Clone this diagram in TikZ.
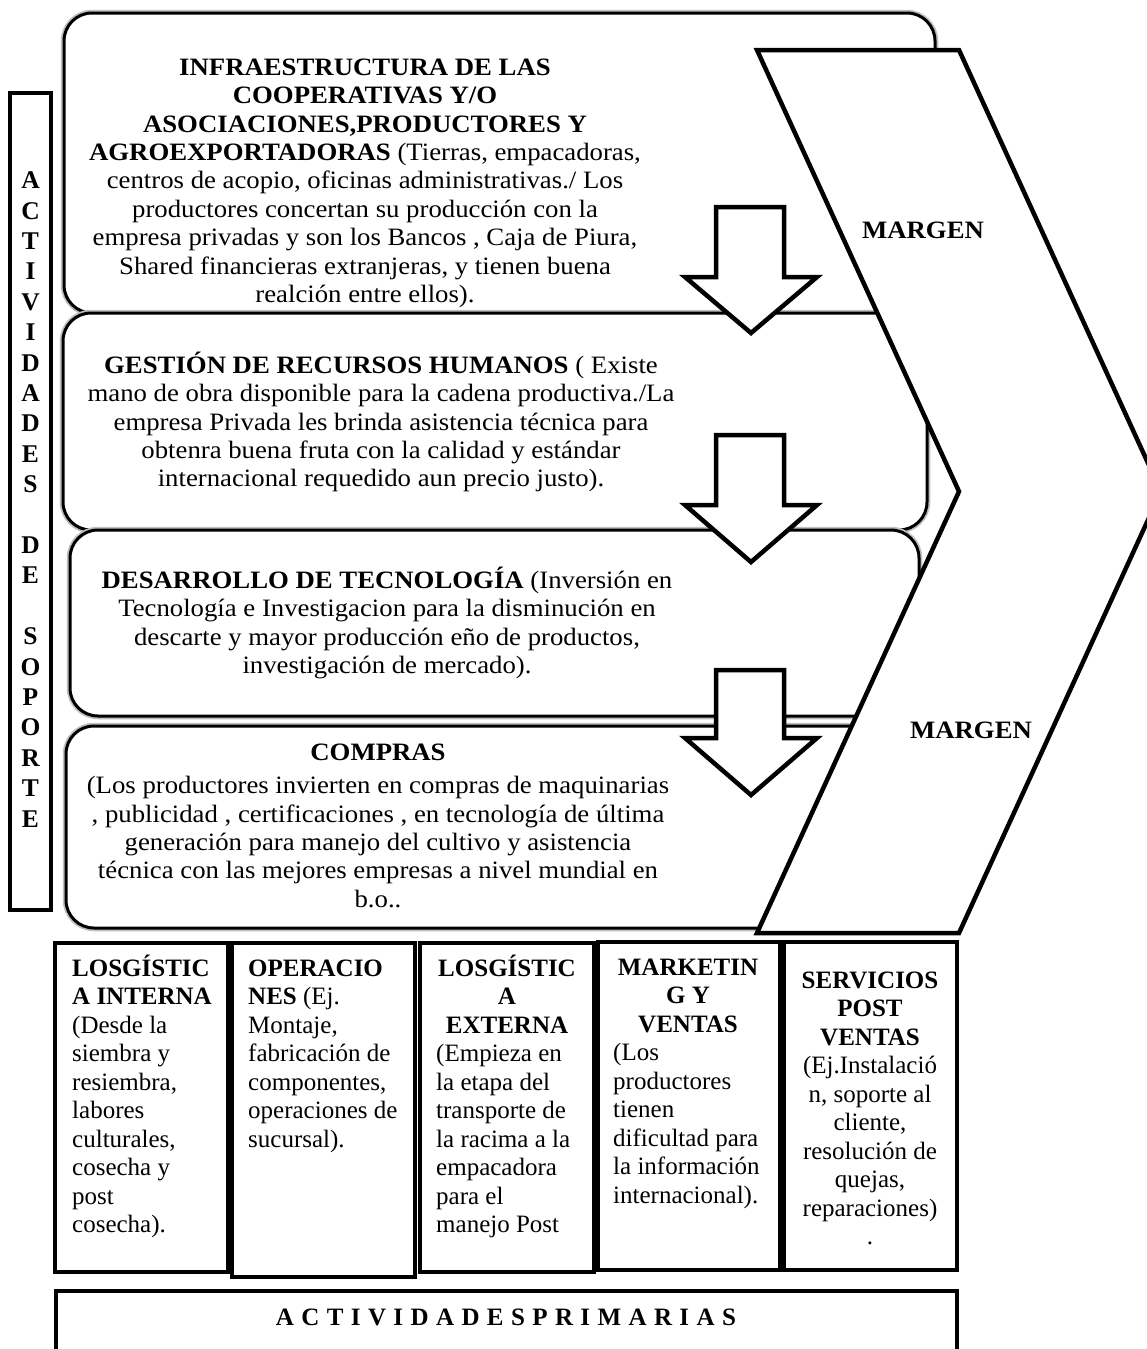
\documentclass[tikz,border=0pt]{standalone}
\usepackage{fontspec}
\setmainfont{Liberation Serif}
\newfontfamily\supfont[FakeStretch=1.07]{Liberation Serif}
\newcommand{\tightlines}{\lineskiplimit=-30pt\relax}
\newcommand{\widespaces}{\spaceskip=7.4pt\relax}
\begin{document}
\begin{tikzpicture}[x=1pt,y=-1pt,
  sbox/.style={draw=black, line width=3pt, rounded corners=28pt, fill=white, preaction={draw=black!25, line width=6.5pt}},
  pbox/.style={draw=black, line width=4.5pt, fill=white},
  blockarrow/.style={draw=black, line width=4.5pt, fill=white, line join=miter},
  stxt/.style={inner sep=0pt, anchor=north, align=center, font={\supfont\fontsize{25}{28.4}\selectfont\tightlines}},
  ptxt/.style={inner sep=0pt, font={\fontsize{25}{28.5}\selectfont\tightlines}},
  margen/.style={inner sep=0pt, font={\supfont\bfseries\fontsize{25}{28}\selectfont}}
]
\useasboundingbox (0,0) rectangle (1147,1349);
\clip (0,0) rectangle (1147,1349);
\fill[white] (0,0) rectangle (1147,1349);

% vertical box
\draw[line width=4.5pt] (10,93) rectangle (51,910);
\node[inner sep=0pt, anchor=north, align=center, font={\bfseries\fontsize{25.5}{30.4}\selectfont\tightlines}] (soporte) at (30.5,164)
 {\rule{0pt}{24.5pt}A\\C\\T\\I\\V\\I\\D\\A\\D\\E\\S\\~\\D\\E\\~\\S\\O\\P\\O\\R\\T\\E};

% support boxes
\draw[sbox] (64,13) rectangle (935,313);
\draw[sbox] (63,313) rectangle (927,530);
\draw[sbox] (70,530) rectangle (919,716);
\draw[sbox] (66,726) rectangle (905,928);

\node[stxt] (infra) at (365,51) {\rule{0pt}{24pt}\textbf{INFRAESTRUCTURA DE LAS}\\
\textbf{COOPERATIVAS Y/O}\\
\textbf{ASOCIACIONES,PRODUCTORES Y}\\
\textbf{AGROEXPORTADORAS} (Tierras, empacadoras,\\
centros de acopio, oficinas administrativas./ Los\\
productores concertan su producción con la\\
empresa privadas y son los Bancos , Caja de Piura,\\
Shared financieras extranjeras, y tienen buena\\
realción entre ellos).};

\node[stxt] (rrhh) at (381,349) {\rule{0pt}{24pt}\textbf{GESTIÓN DE RECURSOS HUMANOS} ( Existe\\
mano de obra disponible para la cadena productiva./La\\
empresa Privada les brinda asistencia técnica para\\
obtenra buena fruta con la calidad y estándar\\
internacional requedido aun precio justo).};

\node[stxt] (tecno) at (387,564) {\rule{0pt}{24pt}\textbf{DESARROLLO DE TECNOLOGÍA} (Inversión en\\
Tecnología e Investigacion para la disminución en\\
descarte y mayor producción eño de productos,\\
investigación de mercado).};

\node[stxt] (compras) at (378,736) {\rule{0pt}{24pt}\textbf{COMPRAS}\\[5pt]
(Los productores invierten en compras de maquinarias\\
, publicidad , certificaciones , en tecnología de última\\
generación para manejo del cultivo y asistencia\\
técnica con las mejores empresas a nivel mundial en\\
b.o..};

% block arrows
\draw[blockarrow] (716,207) -- (784,207) -- (784,277) -- (817,277) -- (751,333) -- (685,277) -- (716,277) -- cycle;
\draw[blockarrow] (716,435) -- (784,435) -- (784,505) -- (817,505) -- (751,562) -- (685,505) -- (716,505) -- cycle;
\draw[blockarrow] (716,670) -- (784,670) -- (784,738) -- (817,738) -- (751,795) -- (685,738) -- (716,738) -- cycle;

% chevron
\draw[blockarrow] (757,50) -- (959,50) -- (1161,491.5) -- (959,933) -- (757,933) -- (959,491.5) -- cycle;
\node[margen] (m1) at (923,230) {MARGEN};
\node[margen] (m2) at (971,730) {MARGEN};

% primary boxes
\draw[pbox] (55,943) rectangle (228,1272);
\draw[pbox] (232,943) rectangle (415,1277);
\draw[pbox] (420,943) rectangle (594,1272);
\draw[pbox] (598,942) rectangle (780,1270);
\draw[pbox] (784,942) rectangle (957,1270);

\node[ptxt, anchor=north west, align=left] (p1) at (72,952) {\rule{0pt}{24pt}\textbf{LOSGÍSTIC}\\\textbf{A INTERNA}\\(Desde la\\siembra y\\resiembra,\\labores\\culturales,\\cosecha y\\post\\cosecha).};
\node[ptxt, anchor=north west, align=left] (p2) at (248,952) {\rule{0pt}{24pt}\textbf{OPERACIO}\\\textbf{NES} (Ej.\\Montaje,\\fabricación de\\componentes,\\operaciones de\\sucursal).};
\node[ptxt, anchor=north, align=center] (p3h) at (507,952) {\rule{0pt}{24pt}\textbf{LOSGÍSTIC}\\\textbf{A}\\\textbf{EXTERNA}};
\node[ptxt, anchor=north west, align=left] (p3) at (436,1037.5) {\rule{0pt}{24pt}(Empieza en\\la etapa del\\transporte de\\la racima a la\\empacadora\\para el\\manejo Post};
\node[ptxt, anchor=north, align=center] (p4h) at (688,951) {\rule{0pt}{24pt}\textbf{MARKETIN}\\\textbf{G Y}\\\textbf{VENTAS}};
\node[ptxt, anchor=north west, align=left] (p4) at (613,1036.5) {\rule{0pt}{24pt}(Los\\productores\\tienen\\dificultad para\\la información\\internacional).};
\node[ptxt, anchor=north, align=center] (p5) at (870,964) {\rule{0pt}{24pt}\textbf{SERVICIOS}\\\textbf{POST}\\\textbf{VENTAS}\\(Ej.Instalació\\n, soporte al\\cliente,\\resolución de\\quejas,\\reparaciones)\\.};

% primary label box
\draw[line width=4.5pt] (56,1360) -- (56,1291) -- (957,1291) -- (957,1360);
\node[inner sep=0pt, font={\bfseries\fontsize{25}{28}\selectfont\widespaces}] (primarias) at (506,1317) {A C T I V I D A D E S P R I M A R I A S};
\end{tikzpicture}
\end{document}
